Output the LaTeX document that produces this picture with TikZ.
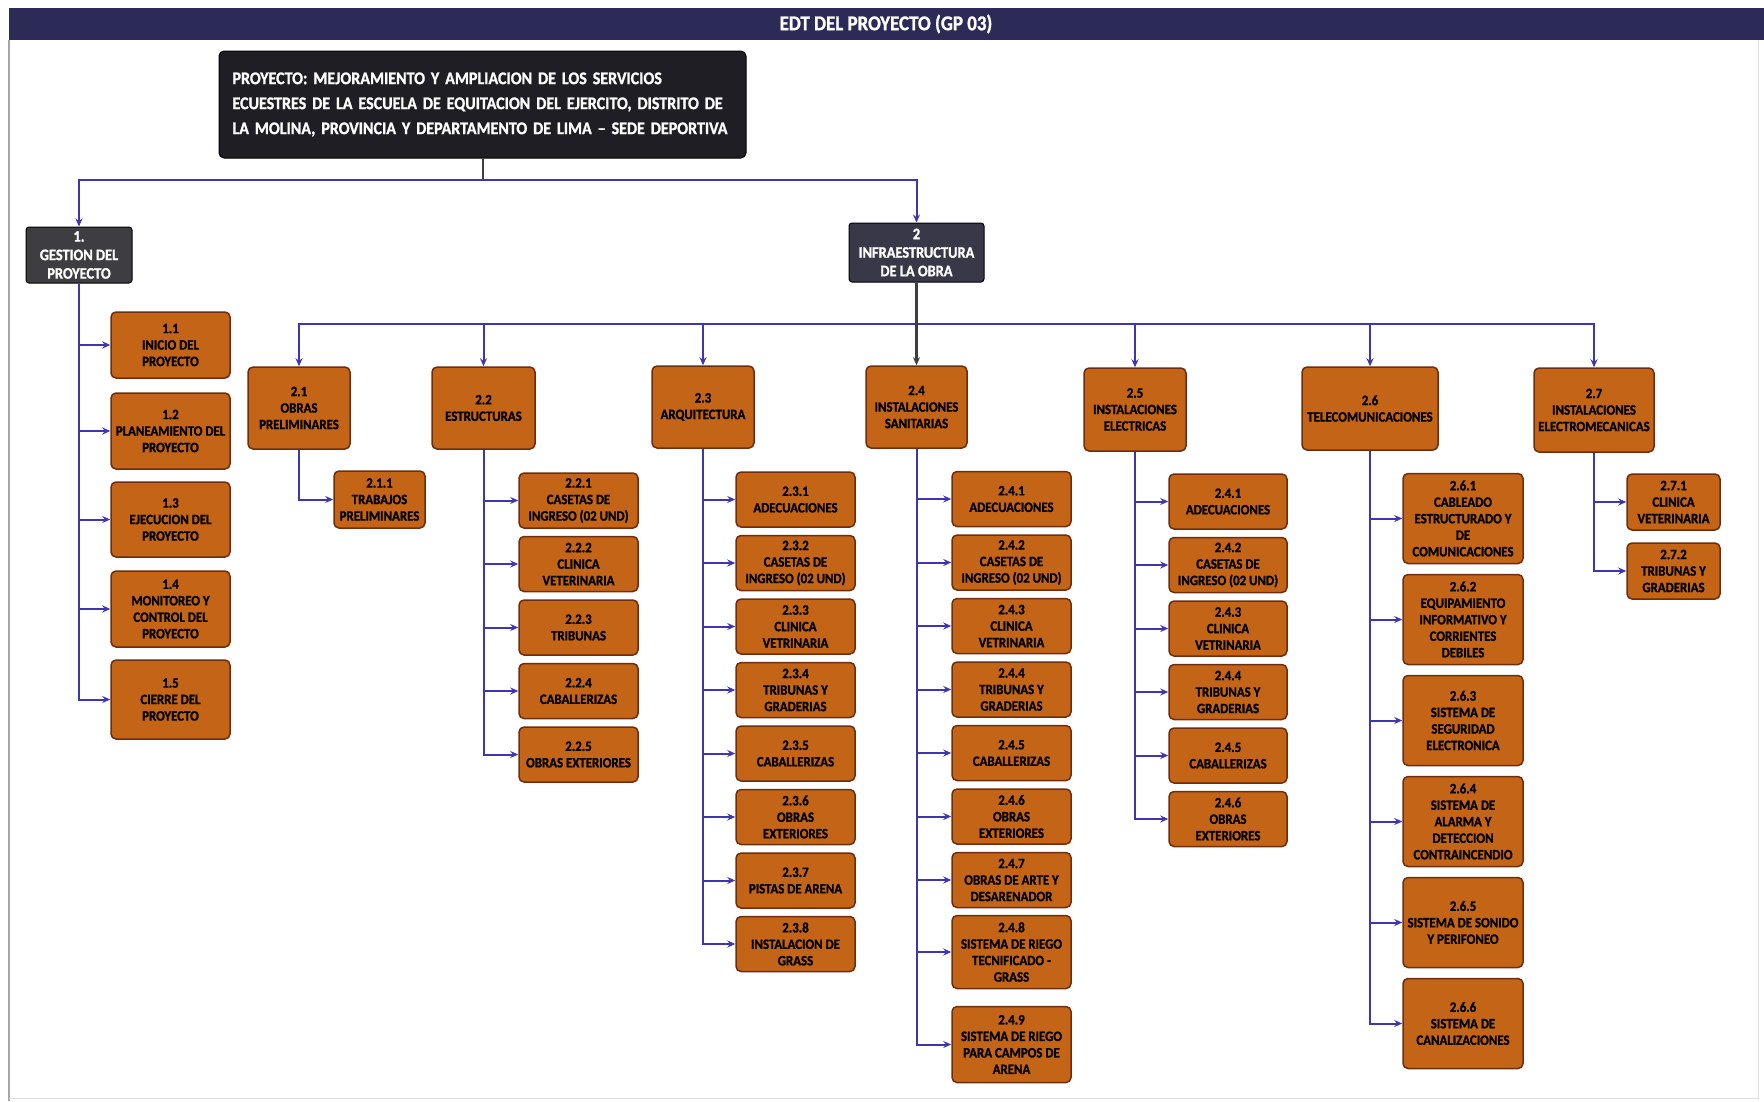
\documentclass[tikz,border=0pt]{standalone}
\usepackage{fontspec}
\setmainfont{Carlito}[FakeStretch=0.9, BoldFeatures={FakeBold=1.2}]
\usetikzlibrary{positioning,arrows.meta}
\definecolor{barra}{RGB}{44,42,86}
\definecolor{naranja}{RGB}{196,100,22}
\definecolor{borde}{RGB}{110,45,15}
\definecolor{linea}{RGB}{62,54,176}
\definecolor{oscuro}{RGB}{30,30,36}
\definecolor{gris}{RGB}{62,62,66}
\definecolor{gris2}{RGB}{56,56,72}
\tikzstyle{proy}=[draw=black, fill=oscuro, rounded corners=5pt, text=white, font={\fontsize{17.8}{25}\selectfont\bfseries}, text width=500pt, align=left, minimum width=527pt, minimum height=107pt, inner sep=0pt, line width=1pt]
\tikzstyle{fase}=[draw=black, fill=gris, rounded corners=3pt, text=white, font={\fontsize{16}{18.5}\selectfont\bfseries}, align=center, inner sep=0pt, line width=1pt]
\tikzstyle{ent}=[draw=borde, fill=naranja, rounded corners=5pt, font={\fontsize{14.3}{16.5}\selectfont\bfseries}, align=center, inner sep=0pt, line width=1.5pt]
\tikzstyle{cab}=[ent, minimum width=102pt, minimum height=82pt]
\tikzstyle{sub}=[ent, minimum width=119pt, minimum height=55pt]
\tikzstyle{con}=[draw=linea, line width=2pt]

\begin{document}
\begin{tikzpicture}[x=1pt,y=-1pt,node distance=63.5pt,>={Stealth[length=8pt,width=7pt]}]
\useasboundingbox (0,0) rectangle (1764,1101);
% marco y titulo
\fill[barra] (9,8) rectangle (1764,40);
\draw[gray!70,line width=1.5pt] (9,40) -- (9,1101);
\draw[gray!25] (1758,40) -- (1758,1098) -- (9,1098);
\node[font={\fontsize{21}{23}\selectfont\bfseries}, text=white] at (886,24) (titulo) {EDT DEL PROYECTO (GP 03)};

\node[proy] at (482.5,104.5) (proyecto) {PROYECTO: MEJORAMIENTO Y AMPLIACION DE LOS SERVICIOS\\ECUESTRES DE LA ESCUELA DE EQUITACION DEL EJERCITO, DISTRITO DE\\LA MOLINA, PROVINCIA Y DEPARTAMENTO DE LIMA -- SEDE DEPORTIVA};

\node[fase, minimum width=106pt, minimum height=56pt] at (79,255) (gestion) {1.\\GESTION DEL\\PROYECTO};
\node[fase, fill=gris2, minimum width=135pt, minimum height=59pt] at (916.5,252.5) (infra) {2\\INFRAESTRUCTURA\\DE LA OBRA};

\coordinate (nudo) at (482.5,180);
\draw[gris, line width=2pt] (proyecto.south) -- (nudo);
\draw[con,->] (nudo) -| (gestion);
\draw[con,->] (nudo) -| (infra);

% fase 1
\node[ent, minimum width=119pt, minimum height=66pt] at (170.5,345) (t11) {1.1\\INICIO DEL\\PROYECTO};
\node[ent, minimum width=119pt, minimum height=76pt, below of = t11, node distance = 86pt] (t12) {1.2\\PLANEAMIENTO DEL\\PROYECTO};
\node[ent, minimum width=119pt, minimum height=75pt, below of = t12, node distance = 88.5pt] (t13) {1.3\\EJECUCION DEL\\PROYECTO};
\node[ent, minimum width=119pt, minimum height=76pt, below of = t13, node distance = 89.5pt] (t14) {1.4\\MONITOREO Y\\CONTROL DEL\\PROYECTO};
\node[ent, minimum width=119pt, minimum height=79pt, below of = t14, node distance = 90.5pt] (t15) {1.5\\CIERRE DEL\\PROYECTO};
\draw[con,->] (gestion.south) |- (t11.west);
\draw[con,->] (gestion.south) |- (t12.west);
\draw[con,->] (gestion.south) |- (t13.west);
\draw[con,->] (gestion.south) |- (t14.west);
\draw[con,->] (gestion.south) |- (t15.west);

% fase 2
\node[cab] at (299,408) (e21) {2.1\\OBRAS\\PRELIMINARES};
\node[cab, minimum width=103pt] at (483.5,408) (e22) {2.2\\ESTRUCTURAS};
\node[cab] at (703,407) (e23) {2.3\\ARQUITECTURA};
\node[cab, minimum width=101pt] at (916.5,407) (e24) {2.4\\INSTALACIONES\\SANITARIAS};
\node[cab, minimum height=83pt] at (1135,409.5) (e25) {2.5\\INSTALACIONES\\ELECTRICAS};
\node[cab, minimum width=136pt, minimum height=83pt] at (1370,408.5) (e26) {2.6\\TELECOMUNICACIONES};
\node[cab, minimum width=120pt, minimum height=84pt] at (1594,410) (e27) {2.7\\INSTALACIONES\\ELECTROMECANICAS};

\coordinate (bus) at (916.5,324);
\draw[con,->] (bus) -| (e21);
\draw[con,->] (bus) -| (e22);
\draw[con,->] (bus) -| (e23);
\draw[con,->] (bus) -| (e25);
\draw[con,->] (bus) -| (e26);
\draw[con,->] (bus) -| (e27);
\draw[gris, line width=2.5pt, ->] (infra) -- (e24);

% 2.1
\node[ent, minimum width=91pt, minimum height=57pt] at (379.5,499.5) (e211) {2.1.1\\TRABAJOS\\PRELIMINARES};
\draw[con,->] (e21.south) |- (e211.west);

% 2.2
\node[sub] at (578.5,500.5) (e221) {2.2.1\\CASETAS DE\\INGRESO (02 UND)};
\node[sub, below of = e221] (e222) {2.2.2\\CLINICA\\VETERINARIA};
\node[sub, below of = e222] (e223) {2.2.3\\TRIBUNAS};
\node[sub, below of = e223] (e224) {2.2.4\\CABALLERIZAS};
\node[sub, below of = e224] (e225) {2.2.5\\OBRAS EXTERIORES};
\draw[con,->] (e22.south) |- (e221.west);
\draw[con,->] (e22.south) |- (e222.west);
\draw[con,->] (e22.south) |- (e223.west);
\draw[con,->] (e22.south) |- (e224.west);
\draw[con,->] (e22.south) |- (e225.west);

% 2.3
\node[sub] at (795.5,499.5) (e231) {2.3.1\\ADECUACIONES};
\node[sub, below of = e231] (e232) {2.3.2\\CASETAS DE\\INGRESO (02 UND)};
\node[sub, below of = e232] (e233) {2.3.3\\CLINICA\\VETRINARIA};
\node[sub, below of = e233] (e234) {2.3.4\\TRIBUNAS Y\\GRADERIAS};
\node[sub, below of = e234] (e235) {2.3.5\\CABALLERIZAS};
\node[sub, below of = e235] (e236) {2.3.6\\OBRAS\\EXTERIORES};
\node[sub, below of = e236] (e237) {2.3.7\\PISTAS DE ARENA};
\node[sub, below of = e237] (e238) {2.3.8\\INSTALACION DE\\GRASS};
\draw[con,->] (e23.south) |- (e231.west);
\draw[con,->] (e23.south) |- (e232.west);
\draw[con,->] (e23.south) |- (e233.west);
\draw[con,->] (e23.south) |- (e234.west);
\draw[con,->] (e23.south) |- (e235.west);
\draw[con,->] (e23.south) |- (e236.west);
\draw[con,->] (e23.south) |- (e237.west);
\draw[con,->] (e23.south) |- (e238.west);

% 2.4
\node[sub] at (1011.5,499) (e241) {2.4.1\\ADECUACIONES};
\node[sub, below of = e241] (e242) {2.4.2\\CASETAS DE\\INGRESO (02 UND)};
\node[sub, below of = e242] (e243) {2.4.3\\CLINICA\\VETRINARIA};
\node[sub, below of = e243] (e244) {2.4.4\\TRIBUNAS Y\\GRADERIAS};
\node[sub, below of = e244] (e245) {2.4.5\\CABALLERIZAS};
\node[sub, below of = e245] (e246) {2.4.6\\OBRAS\\EXTERIORES};
\node[sub, below of = e246] (e247) {2.4.7\\OBRAS DE ARTE Y\\DESARENADOR};
\node[sub, minimum height=73pt, below of = e247, node distance = 72pt] (e248) {2.4.8\\SISTEMA DE RIEGO\\TECNIFICADO -\\GRASS};
\node[sub, minimum height=76pt, below of = e248, node distance = 92.5pt] (e249) {2.4.9\\SISTEMA DE RIEGO\\PARA CAMPOS DE\\ARENA};
\draw[con,->] (e24.south) |- (e241.west);
\draw[con,->] (e24.south) |- (e242.west);
\draw[con,->] (e24.south) |- (e243.west);
\draw[con,->] (e24.south) |- (e244.west);
\draw[con,->] (e24.south) |- (e245.west);
\draw[con,->] (e24.south) |- (e246.west);
\draw[con,->] (e24.south) |- (e247.west);
\draw[con,->] (e24.south) |- (e248.west);
\draw[con,->] (e24.south) |- (e249.west);

% 2.5
\node[sub, minimum width=118pt] at (1228,501.5) (e251) {2.4.1\\ADECUACIONES};
\node[sub, minimum width=118pt, below of = e251] (e252) {2.4.2\\CASETAS DE\\INGRESO (02 UND)};
\node[sub, minimum width=118pt, below of = e252] (e253) {2.4.3\\CLINICA\\VETRINARIA};
\node[sub, minimum width=118pt, below of = e253] (e254) {2.4.4\\TRIBUNAS Y\\GRADERIAS};
\node[sub, minimum width=118pt, below of = e254] (e255) {2.4.5\\CABALLERIZAS};
\node[sub, minimum width=118pt, below of = e255] (e256) {2.4.6\\OBRAS\\EXTERIORES};
\draw[con,->] (e25.south) |- (e251.west);
\draw[con,->] (e25.south) |- (e252.west);
\draw[con,->] (e25.south) |- (e253.west);
\draw[con,->] (e25.south) |- (e254.west);
\draw[con,->] (e25.south) |- (e255.west);
\draw[con,->] (e25.south) |- (e256.west);

% 2.6
\node[sub, minimum width=120pt, minimum height=90pt] at (1463,518.5) (e261) {2.6.1\\CABLEADO\\ESTRUCTURADO Y\\DE\\COMUNICACIONES};
\node[sub, minimum width=120pt, minimum height=90pt, below of = e261, node distance = 101pt] (e262) {2.6.2\\EQUIPAMIENTO\\INFORMATIVO Y\\CORRIENTES\\DEBILES};
\node[sub, minimum width=120pt, minimum height=90pt, below of = e262, node distance = 101pt] (e263) {2.6.3\\SISTEMA DE\\SEGURIDAD\\ELECTRONICA};
\node[sub, minimum width=120pt, minimum height=90pt, below of = e263, node distance = 101pt] (e264) {2.6.4\\SISTEMA DE\\ALARMA Y\\DETECCION\\CONTRAINCENDIO};
\node[sub, minimum width=120pt, minimum height=90pt, below of = e264, node distance = 101pt] (e265) {2.6.5\\SISTEMA DE SONIDO\\Y PERIFONEO};
\node[sub, minimum width=120pt, minimum height=90pt, below of = e265, node distance = 101pt] (e266) {2.6.6\\SISTEMA DE\\CANALIZACIONES};
\draw[con,->] (e26.south) |- (e261.west);
\draw[con,->] (e26.south) |- (e262.west);
\draw[con,->] (e26.south) |- (e263.west);
\draw[con,->] (e26.south) |- (e264.west);
\draw[con,->] (e26.south) |- (e265.west);
\draw[con,->] (e26.south) |- (e266.west);

% 2.7
\node[sub, minimum width=93pt, minimum height=56pt] at (1673.5,502) (e271) {2.7.1\\CLINICA\\VETERINARIA};
\node[sub, minimum width=93pt, minimum height=56pt, below of = e271, node distance = 69pt] (e272) {2.7.2\\TRIBUNAS Y\\GRADERIAS};
\draw[con,->] (e27.south) |- (e271.west);
\draw[con,->] (e27.south) |- (e272.west);
\end{tikzpicture}
\end{document}
